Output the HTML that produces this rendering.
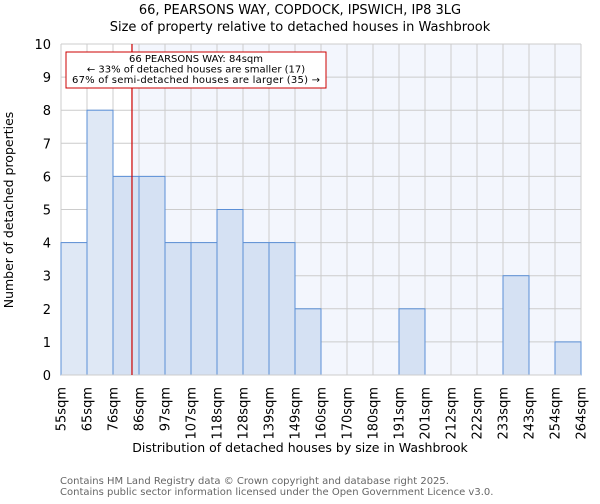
<!DOCTYPE html>
<html><head><meta charset="utf-8"><style>
body{margin:0;background:#fff;font-family:"DejaVu Sans","Liberation Sans",sans-serif}
</style></head><body>
<svg width="600" height="500" xmlns="http://www.w3.org/2000/svg" font-family="DejaVu Sans, Liberation Sans, sans-serif">
<text x="300" y="14" text-anchor="middle" font-size="13">66, PEARSONS WAY, COPDOCK, IPSWICH, IP8 3LG</text>
<text x="300" y="31" text-anchor="middle" font-size="13">Size of property relative to detached houses in Washbrook</text>
<g id="plot"></g>
<text transform="translate(13,210) rotate(-90)" text-anchor="middle" font-size="12.5">Number of detached properties</text>
<text x="300" y="452" text-anchor="middle" font-size="12.5">Distribution of detached houses by size in Washbrook</text>
<text x="60" y="484" font-size="10" fill="#666">Contains HM Land Registry data © Crown copyright and database right 2025.</text>
<text x="60" y="495" font-size="10" fill="#666">Contains public sector information licensed under the Open Government Licence v3.0.</text>
</svg>
<script>
const categories=["55sqm","65sqm","76sqm","86sqm","97sqm","107sqm","118sqm","128sqm","139sqm","149sqm","160sqm","170sqm","180sqm","191sqm","201sqm","212sqm","222sqm","233sqm","243sqm","254sqm","264sqm"];
const counts=[4,8,6,6,4,4,5,4,4,2,0,0,0,2,0,0,0,3,0,1];
const yTicks=[0,1,2,3,4,5,6,7,8,9,10];
const markerBin=2.73;
const NS="http://www.w3.org/2000/svg";
const L=61,R=581,T=44,B=375,nb=counts.length;
const xs=i=>L+(R-L)*i/nb;
const ys=v=>B-(B-T)*v/10;
const g=document.getElementById('plot');
function mk(tag,attrs){const e=document.createElementNS(NS,tag);for(const k in attrs)e.setAttribute(k,attrs[k]);g.appendChild(e);return e;}
const mx=xs(markerBin);
let e=mk('rect',{x:mx,y:T,width:R-mx,height:B-T,fill:'#f3f6fd'});


yTicks.forEach(t=>{
 let l=mk('line',{x1:L,x2:R,y1:ys(t),y2:ys(t),stroke:'#ccc','stroke-width':1});
 
 
 let tx=mk('text',{x:L-10,y:ys(t)+5,'text-anchor':'end','font-size':13});
 tx.textContent=t;
 
 
});
categories.forEach((c,i)=>{
 let l=mk('line',{x1:xs(i),x2:xs(i),y1:T,y2:B,stroke:'#ccc','stroke-width':1});
 
 
 let tx=mk('text',{transform:`translate(${xs(i)+4.5},387) rotate(-90)`,'text-anchor':'end','font-size':13});
 tx.textContent=c;
 
 
});
counts.forEach((v,i)=>{
 if(v<=0)return;
 let r=mk('rect',{x:xs(i),y:ys(v),width:xs(i+1)-xs(i),height:B-ys(v),fill:(i+1<=markerBin?'#dfe8f5':'#d5e1f3'),stroke:'#5b8fd6','stroke-width':1});
 
 
});
e=mk('line',{x1:L,x2:R,y1:B,y2:B,stroke:'#ccc'});


e=mk('line',{x1:mx,x2:mx,y1:T,y2:B,stroke:'#cc0000','stroke-width':1.2});


e=mk('rect',{x:66,y:52,width:260,height:36,fill:'#fff',stroke:'#cc0000','stroke-width':1});


["66 PEARSONS WAY: 84sqm","← 33% of detached houses are smaller (17)","67% of semi-detached houses are larger (35) →"].forEach((s,k)=>{
 let tx=mk('text',{x:196,y:62+k*10.5,'text-anchor':'middle','font-size':10,textLength:(k==2?248:null)});
 if(k!=2)tx.removeAttribute('textLength');
 tx.textContent=s;
 
 
});
</script>
</body></html>
